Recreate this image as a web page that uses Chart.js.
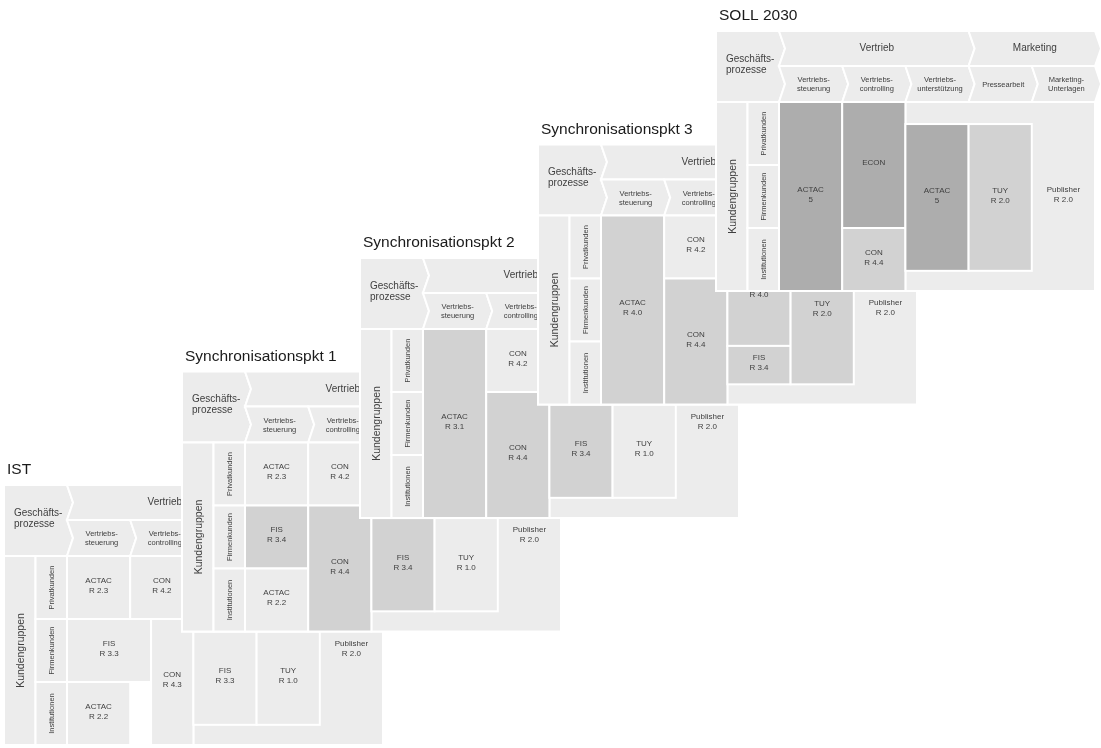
<!DOCTYPE html>
<html>
<head>
<meta charset="utf-8">
<script src="https://cdn.jsdelivr.net/npm/chart.js@4"></script>
<style>
    html, body { margin: 0; padding: 0; background: #fff; }
    canvas { display: block; }
</style>
</head>
<body>
<canvas id="chart" width="1101" height="748"></canvas>
<script>
// Stufen der Anwendungslandschaft (von IST bis SOLL)
const stages = ['IST', 'Synchronisationspkt 1', 'Synchronisationspkt 2', 'Synchronisationspkt 3', 'SOLL 2030'];

// Geschäftsprozesse: [Name, Spalte von, Spalte bis]
const mainProcesses = [['Vertrieb', 0, 3], ['Marketing', 3, 5]];
const subProcesses = ['Vertriebs-\nsteuerung', 'Vertriebs-\ncontrolling', 'Vertriebs-\nunterstützung', 'Pressearbeit', 'Marketing-\nUnterlagen'];
const customerGroups = ['Privatkunden', 'Firmenkunden', 'Institutionen'];

// Anwendungen: [Name, Release, Spalte von, Spalte bis, Zeile von, Zeile bis, Änderungsgrad]
// Änderungsgrad: 0 = unverändert, 1 = neues Release, 2 = neue Anwendung
const appsIST = [
    ['Publisher', 'R 2.0', 2, 5, 0, 3, 0],
    ['ACTAC', 'R 2.3', 0, 1, 0, 1, 0],
    ['CON', 'R 4.2', 1, 2, 0, 1, 0],
    ['FIS', 'R 3.3', 0, 1.33, 1, 2, 0],
    ['CON', 'R 4.3', 1.33, 2, 1, 3, 0],
    ['ACTAC', 'R 2.2', 0, 1, 2, 3, 0],
    ['FIS', 'R 3.3', 2, 3, 1.2, 2.68, 0],
    ['TUY', 'R 1.0', 3, 4, 1.2, 2.68, 0]
];
const appsSync1 = [
    ['Publisher', 'R 2.0', 2, 5, 0, 3, 0],
    ['ACTAC', 'R 2.3', 0, 1, 0, 1, 0],
    ['FIS', 'R 3.4', 0, 1, 1, 2, 1],
    ['ACTAC', 'R 2.2', 0, 1, 2, 3, 0],
    ['CON', 'R 4.2', 1, 2, 0, 1, 0],
    ['CON', 'R 4.4', 1, 2, 1, 3, 1],
    ['FIS', 'R 3.4', 2, 3, 1.2, 2.68, 1],
    ['TUY', 'R 1.0', 3, 4, 1.2, 2.68, 0]
];
const appsSync2 = [
    ['Publisher', 'R 2.0', 2, 5, 0, 3, 0],
    ['ACTAC', 'R 3.1', 0, 1, 0, 3, 1],
    ['CON', 'R 4.2', 1, 2, 0, 1, 0],
    ['CON', 'R 4.4', 1, 2, 1, 3, 1],
    ['FIS', 'R 3.4', 2, 3, 1.2, 2.68, 1],
    ['TUY', 'R 1.0', 3, 4, 1.2, 2.68, 0]
];
const appsSync3 = [
    ['Publisher', 'R 2.0', 2, 5, 0, 3, 0],
    ['ACTAC', 'R 4.0', 0, 1, 0, 3, 1],
    ['CON', 'R 4.2', 1, 2, 0, 1, 0],
    ['CON', 'R 4.4', 1, 2, 1, 3, 1],
    ['ACTAC', 'R 4.0', 2, 3, 0.35, 2.07, 1],
    ['FIS', 'R 3.4', 2, 3, 2.07, 2.68, 1],
    ['TUY', 'R 2.0', 3, 4, 0.35, 2.68, 1]
];
const appsSOLL = [
    ['Publisher', 'R 2.0', 2, 5, 0, 3, 0],
    ['ACTAC', '5', 0, 1, 0, 3, 2],
    ['ECON', '', 1, 2, 0, 2, 2],
    ['CON', 'R 4.4', 1, 2, 2, 3, 1],
    ['ACTAC', '5', 2, 3, 0.35, 2.68, 2],
    ['TUY', 'R 2.0', 3, 4, 0.35, 2.68, 1]
];
const stageApps = [appsIST, appsSync1, appsSync2, appsSync3, appsSOLL];

// Darstellung
const shades = ['#ececec', '#d2d2d2', '#adadad'];
const textColor = '#404040';
const fontFamily = '"Liberation Sans", Arial, sans-serif';
const geo = { x0: 4, y0: 485, dx: 178, dy: -113.5, groupW: 31.5, colStart: 63, colW: 63.2, head1: 35, head2: 71, rowH: 63, tip: 6 };

function multiLine(ctx, text, x, y, lh) {
    const lines = text.split('\n');
    lines.forEach((t, i) => ctx.fillText(t, x, y + (i - (lines.length - 1) / 2) * lh));
}

function cell(ctx, x0, y0, x1, y1, fill) {
    ctx.fillStyle = fill;
    ctx.fillRect(x0, y0, x1 - x0, y1 - y0);
    ctx.strokeRect(x0, y0, x1 - x0, y1 - y0);
}

function chevron(ctx, x0, x1, y0, y1, tip) {
    const ym = (y0 + y1) / 2;
    ctx.beginPath();
    ctx.moveTo(x0, y0);
    ctx.lineTo(x1, y0);
    ctx.lineTo(x1 + tip, ym);
    ctx.lineTo(x1, y1);
    ctx.lineTo(x0, y1);
    ctx.lineTo(x0 + tip, ym);
    ctx.closePath();
    ctx.fill();
    ctx.stroke();
}

const ladderPlugin = {
    id: 'ladder',
    afterDraw(chart) {
        const { ctx, scales: { x, y } } = chart;
        ctx.save();
        ctx.lineWidth = 2;
        ctx.strokeStyle = '#ffffff';
        ctx.lineJoin = 'miter';

        stages.forEach((stage, k) => {
            const L = geo.x0 + k * geo.dx;
            const T = geo.y0 + k * geo.dy;
            const X = v => x.getPixelForValue(L + v);
            const Y = v => y.getPixelForValue(T + v);
            const cx = c => X(geo.colStart + c * geo.colW);
            const ry = r => Y(geo.head2 + r * geo.rowH);
            const tip = X(geo.tip) - X(0);

            // Titel
            ctx.fillStyle = '#1a1a1a';
            ctx.font = '15.5px ' + fontFamily;
            ctx.textAlign = 'left';
            ctx.textBaseline = 'middle';
            ctx.fillText(stage, X(3), Y(-15));

            // weisser Untergrund der Karte
            ctx.fillStyle = '#ffffff';
            ctx.fillRect(X(-1), Y(-1), cx(5) + tip + 2 - X(-1), ry(3) + 1 - Y(-1));

            // Kopf: Geschäftsprozesse
            ctx.fillStyle = shades[0];
            const xr = cx(0);
            ctx.beginPath();
            ctx.moveTo(X(0), Y(0));
            ctx.lineTo(xr, Y(0));
            ctx.lineTo(xr + tip, Y(geo.head1 / 2));
            ctx.lineTo(xr, Y(geo.head1));
            ctx.lineTo(xr + tip, Y((geo.head1 + geo.head2) / 2));
            ctx.lineTo(xr, Y(geo.head2));
            ctx.lineTo(X(0), Y(geo.head2));
            ctx.closePath();
            ctx.fill();
            ctx.stroke();

            mainProcesses.forEach(([name, c0, c1]) => {
                ctx.fillStyle = shades[0];
                chevron(ctx, cx(c0), cx(c1), Y(0), Y(geo.head1), tip);
            });
            subProcesses.forEach((name, i) => {
                ctx.fillStyle = shades[0];
                chevron(ctx, cx(i), cx(i + 1), Y(geo.head1), Y(geo.head2), tip);
            });

            // Kundengruppen
            cell(ctx, X(0), ry(0), X(geo.groupW), ry(3), shades[0]);
            customerGroups.forEach((g, i) => cell(ctx, X(geo.groupW), ry(i), cx(0), ry(i + 1), shades[0]));

            // Anwendungen
            const apps = stageApps[k];
            apps.forEach(a => cell(ctx, cx(a[2]), ry(a[4]), cx(a[3]), ry(a[5]), shades[a[6]]));

            // Beschriftungen
            ctx.fillStyle = textColor;
            ctx.textAlign = 'left';
            ctx.font = '10px ' + fontFamily;
            multiLine(ctx, 'Geschäfts-\nprozesse', X(10), Y(33.5), 11);

            ctx.textAlign = 'center';
            mainProcesses.forEach(([name, c0, c1]) => {
                ctx.fillText(name, (cx(c0) + cx(c1)) / 2 + tip / 2, Y(geo.head1 / 2));
            });
            ctx.font = '7.5px ' + fontFamily;
            subProcesses.forEach((name, i) => {
                multiLine(ctx, name, (cx(i) + cx(i + 1)) / 2 + tip / 2, Y((geo.head1 + geo.head2) / 2 + 0.5), 9);
            });

            ctx.save();
            ctx.translate(X(17), ry(1.5));
            ctx.rotate(-Math.PI / 2);
            ctx.font = '10.5px ' + fontFamily;
            ctx.fillText('Kundengruppen', 0, 0);
            ctx.restore();

            ctx.font = '7.5px ' + fontFamily;
            customerGroups.forEach((g, i) => {
                ctx.save();
                ctx.translate((X(geo.groupW) + cx(0)) / 2 + 1, (ry(i) + ry(i + 1)) / 2);
                ctx.rotate(-Math.PI / 2);
                ctx.fillText(g, 0, 0);
                ctx.restore();
            });

            ctx.font = '8px ' + fontFamily;
            apps.forEach(a => {
                const label = a[1] ? a[0] + '\n' + a[1] : a[0];
                const lx = a[3] - a[2] > 2 ? (cx(a[3] - 1) + cx(a[3])) / 2 : (cx(a[2]) + cx(a[3])) / 2;
                const ly = (ry(a[4]) + ry(a[5])) / 2 - 2;
                multiLine(ctx, label, lx, ly, 10);
            });
        });
        ctx.restore();
    }
};

new Chart(document.getElementById('chart'), {
    type: 'scatter',
    data: { datasets: [] },
    options: {
        responsive: false,
        devicePixelRatio: 1,
        animation: false,
        layout: { padding: 0 },
        plugins: { legend: { display: false }, tooltip: { enabled: false } },
        scales: {
            x: { type: 'linear', min: 0, max: 1101, display: false },
            y: { type: 'linear', min: 0, max: 748, reverse: true, display: false }
        }
    },
    plugins: [ladderPlugin]
});
</script>
</body>
</html>
